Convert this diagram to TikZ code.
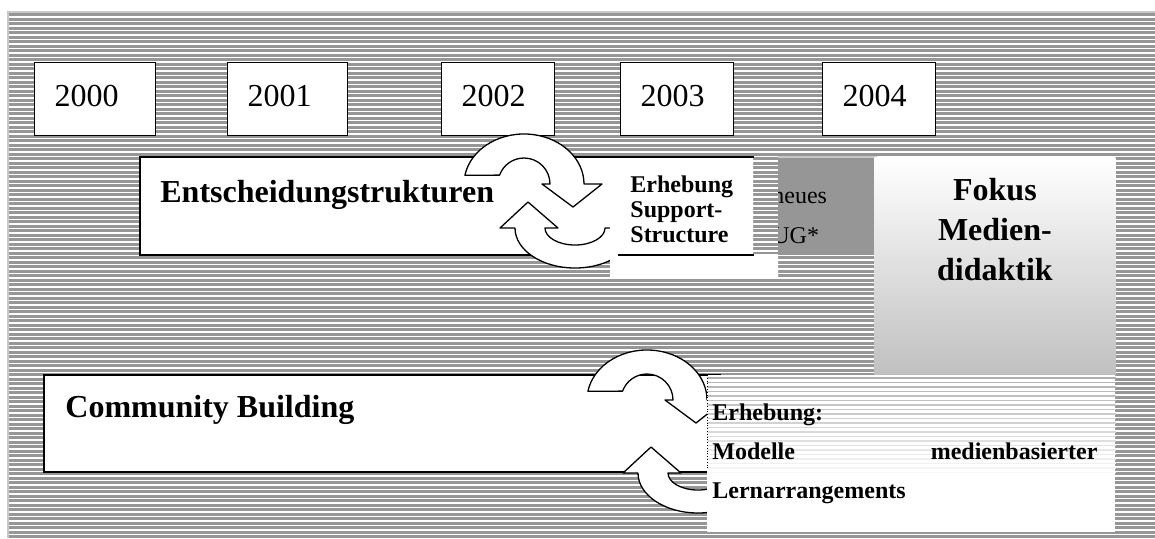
\documentclass[tikz,border=0pt]{standalone}
\usepackage{fontspec}
\setmainfont{Liberation Serif}
\usetikzlibrary{calc}
\definecolor{bggray}{RGB}{150,150,150}
\definecolor{rimgray}{RGB}{200,200,200}
\definecolor{fokusgray}{RGB}{192,192,192}
\definecolor{fokusmid}{RGB}{216,216,216}

\begin{document}
\begin{tikzpicture}[
        x=0.5pt, y=-0.5pt,
        yearbox/.style = {draw, fill=white, line width=0.7pt, anchor=north west, align=left, inner xsep=10pt, inner ysep=0pt, minimum height=36.5pt, font=\fontsize{16}{19}\selectfont},
        bandbox/.style = {draw, fill=white, line width=0.85pt, inner sep=0pt, anchor=north west},
        plainbox/.style = {inner sep=0pt, anchor=north west},
        boldtext/.style = {font=\fontsize{16}{20}\selectfont\bfseries, inner sep=0pt},
        cyclearrow/.style = {draw, fill=white, line width=0.65pt, line join=round},
        stripe/.style = {white, line width=0.55pt}
    ]
        \useasboundingbox (0,0) rectangle (1155,538);

        % striped background
        \fill[bggray] (8,12) rectangle (1155,538);
        \draw[stripe] \foreach \n in {0,...,115} {(8,17+4.5*\n) -- (1155,17+4.5*\n)};
        \draw[rimgray, line width=1pt] (8,538) -- (8,12) -- (1155,12);

        % Years
        \node[yearbox, text width=40.5pt] (y2000) at (34,62) {\strut 2000};
        \node[yearbox, text width=40pt] (y2001) at (227,62) {\strut 2001};
        \node[yearbox, text width=36.5pt] (y2002) at (441,62) {\strut 2002};
        \node[yearbox, text width=36.5pt] (y2003) at (620,62) {\strut 2003};
        \node[yearbox, text width=36.5pt] (y2004) at (822,62) {\strut 2004};

        % Entscheidungstrukturen (its right side stays open)
        \node[plainbox, fill=white, minimum width=306.5pt, minimum height=48.5pt] (ent) at (140,157) {};
        \draw[line width=0.85pt] (ent.north east) -- (ent.north west) -- (ent.south west) -- (ent.south east);
        \node[boldtext, anchor=base west] (entlabel) at ($(ent.north west)+(20,45)$) {Entscheidungstrukturen};

        \begin{scope}[shift={(524,184)}]
            \draw[cyclearrow] (-59.1,-8.7) arc[start angle=190, end angle=360, x radius=60, y radius=50] -- (78,0) -- (49,23) -- (18,0) -- (26,0) arc[start angle=360, end angle=200, radius=26] -- cycle;
        \end{scope}
        \begin{scope}[shift={(575,228)}]
            \draw[cyclearrow] (60,0) arc[start angle=0, end angle=180, x radius=60, y radius=40] -- (-75,0) -- (-47,-26) -- (-17,0) -- (-30,0) arc[start angle=180, end angle=0, x radius=30, y radius=17] -- cycle;
        \end{scope}

        % Erhebung Support-Structure
        \coordinate (erh) at (610,157);
        \fill[white] (erh) -- ++(143,0) -- ++(0,97) -- ++(25,0) -- ++(0,24) -- ++(-168,0) -- cycle;
        \begin{scope}
            \clip ($(erh)+(8,-5)$) rectangle ++(140,105);
            \draw[line width=0.85pt] (ent.north east) -- (ent.north west) -- (ent.south west) -- (ent.south east);
        \end{scope}
        \draw[line width=0.85pt] (erh) -- ++(8,0);
        \node[font=\fontsize{12}{12.5}\selectfont\bfseries, text width=70pt, align=left, anchor=base west, inner sep=0pt] (erhlabel) at ($(erh)+(20,35)$) {Erhebung\\Support-\\Structure};

        % neues UG*
        \node[plainbox, fill=bggray, minimum width=48.5pt, minimum height=49pt] (neu) at (778,157) {};
        \draw[rimgray, line width=1pt] (neu.north west) -- (neu.north east) -- (neu.south east);
        \begin{scope}
            \clip (neu.north west) rectangle (neu.south east);
            \node[font=\fontsize{12}{20}\selectfont, text width=40pt, align=left, anchor=base west, inner sep=0pt] (neulabel) at ($(neu.north west)+(-6,46)$) {neues\\UG*};
        \end{scope}

        % Fokus
        \node[plainbox, minimum width=120.5pt, minimum height=109pt, top color=white, middle color=fokusmid, bottom color=fokusgray] (fokus) at (874,157) {};
        \node[boldtext, text width=110pt, align=center, anchor=base] (fokuslabel) at ($(fokus.north)+(0,43)$) {Fokus\\Medien-\\didaktik};

        % Community Building
        \node[bandbox, minimum width=338pt, minimum height=48.5pt] (com) at (43,374) {};
        \node[boldtext, anchor=base west] (comlabel) at ($(com.north west)+(22,43)$) {Community Building};

        \begin{scope}[shift={(647,400)}]
            \draw[cyclearrow] (-59.1,-8.7) arc[start angle=190, end angle=360, x radius=60, y radius=50] -- (78,0) -- (49,23) -- (18,0) -- (26,0) arc[start angle=360, end angle=200, radius=26] -- cycle;
        \end{scope}
        \begin{scope}[shift={(698,473)}]
            \draw[cyclearrow] (60,0) arc[start angle=0, end angle=180, x radius=60, y radius=40] -- (-75,0) -- (-47,-26) -- (-17,0) -- (-30,0) arc[start angle=180, end angle=0, x radius=30, y radius=17] -- cycle;
        \end{scope}

        % Erhebung Modelle
        \node[plainbox, fill=white, minimum width=204pt, minimum height=78.5pt] (mod) at (707,375) {};
        \foreach \n in {0,...,21} {
            \pgfmathsetmacro{\fade}{int(75-3.2*\n)}
            \draw[line width=0.6pt, bggray!\fade!white] ($(mod.north west)+(0,3+4.5*\n)$) -- ($(mod.north east)+(0,3+4.5*\n)$);
        }
        \draw[densely dotted, line width=0.4pt] (mod.north west) -- ++(0,95);
        \node[font=\fontsize{12}{19.5}\selectfont\bfseries, text width=192.5pt, align=left, anchor=base west, inner sep=0pt] (modlabel) at ($(mod.north west)+(5,45)$) {Erhebung:\\Modelle \hfill medienbasierter\\Lernarrangements};

\end{tikzpicture}
\end{document}
